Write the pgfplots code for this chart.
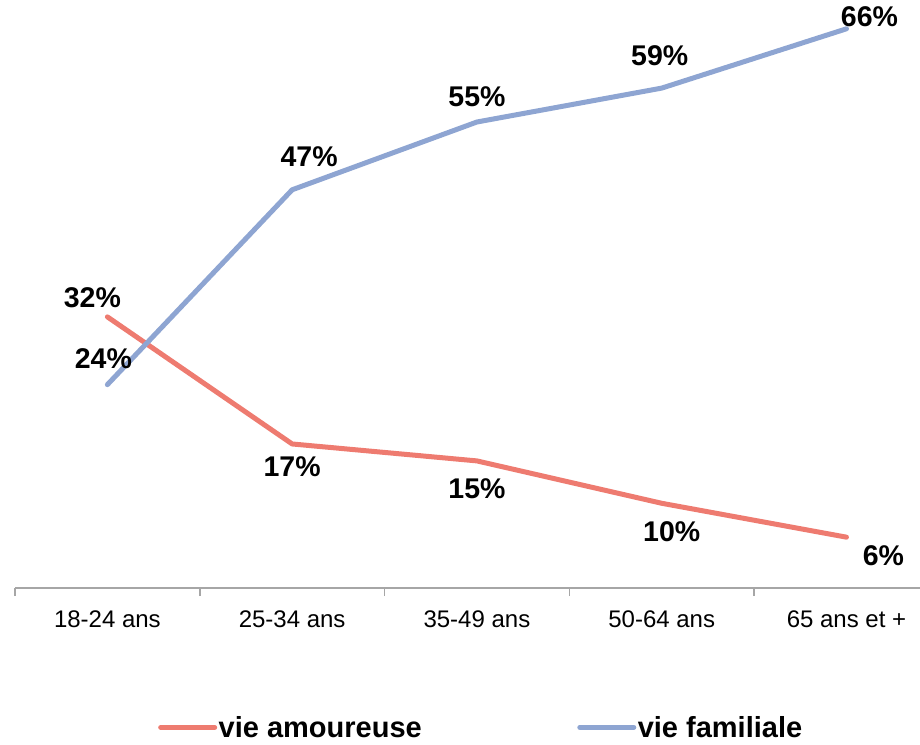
\documentclass[border=0pt]{standalone}
\usepackage{pgfplots}
\pgfplotsset{compat=1.18}
\usepackage{pgfplotstable}
\usepackage{fontspec}
\setmainfont{Liberation Sans}

\definecolor{amour}{HTML}{EE7B70}
\definecolor{famil}{HTML}{8EA5D2}
\definecolor{axgray}{HTML}{A6A6A6}

% x y dx dy  (label offsets in pt)
\pgfplotstableread{
x y dx dy
0 32 -15 19
1 17 0 -23
2 15 0 -28
3 10 10 -28
4 6 37 -19
}\amour

\pgfplotstableread{
x y dx dy
0 24 -4 26
1 47 17 33
2 55 0 25
3 59 -2 32
4 66 23 12
}\famil

\begin{document}
\begin{tikzpicture}
\begin{axis}[
    at={(15pt,156pt)}, anchor=south west,
    scale only axis, width=905pt, height=588pt,
    xmin=-0.5, xmax=4.398, ymin=0, ymax=69.4,
    axis x line=bottom, axis y line=none,
    axis line style={-, axgray, line width=1.6pt},
    xtick={0,...,4},
    xticklabels={18-24 ans, 25-34 ans, 35-49 ans, 50-64 ans, 65 ans et +},
    major tick length=0pt,
    extra x ticks={-0.5,0.5,1.5,2.5,3.5},
    extra x tick labels={},
    extra x tick style={tick align=outside, major tick length=8pt,
        tick style={axgray, line width=1.6pt}},
    xticklabel style={font=\fontsize{24}{28}\selectfont, yshift=-19pt},
    clip=false,
    /pgf/number format/assume math mode=true,
    point meta=y,
    nodes near coords={\pgfmathprintnumber[fixed,precision=0]{\pgfplotspointmeta}\%},
    visualization depends on={\thisrow{dx}\as\dx},
    visualization depends on={\thisrow{dy}\as\dy},
    every node near coord/.style={anchor=center, xshift=\dx pt, yshift=\dy pt,
        font=\bfseries\fontsize{28.5}{33}\selectfont, text=black},
    legend style={at={(0.158,-0.237)}, anchor=west, draw=none, fill=none,
        legend columns=2, font=\bfseries\fontsize{29}{34}\selectfont,
        inner sep=0pt, nodes={inner sep=1.5pt},
        /tikz/every even column/.append style={column sep=154pt}},
    legend image code/.code={\draw[#1, line width=5pt, line cap=round] (0pt,0pt) -- (54pt,0pt);},
]
\addplot[amour, line width=5pt, line cap=round, line join=round] table[x=x, y=y] {\amour};
\addplot[famil, line width=5pt, line cap=round, line join=round] table[x=x, y=y] {\famil};
\legend{vie amoureuse, vie familiale}
\end{axis}
\pgfresetboundingbox
\path[use as bounding box] (0,0) rectangle (920pt,744pt);
\end{tikzpicture}
\end{document}
